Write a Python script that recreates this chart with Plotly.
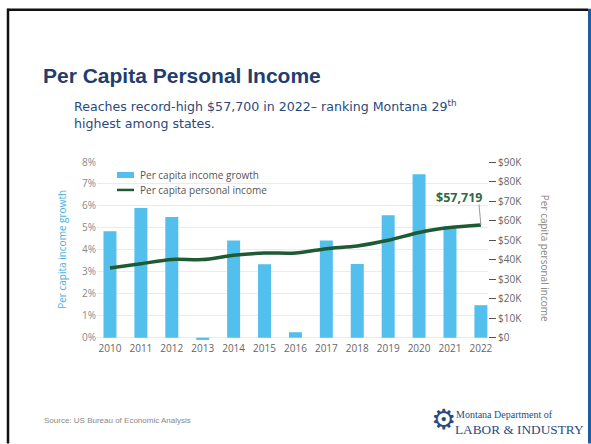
import plotly.graph_objects as go

# ---- data ----
years = [2010, 2011, 2012, 2013, 2014, 2015, 2016, 2017, 2018, 2019, 2020, 2021, 2022]
growth_pct = [4.85, 5.9, 5.5, -0.1, 4.43, 3.35, 0.25, 4.43, 3.36, 5.57, 7.44, 5.08, 1.48]
income_usd = [35700, 37900, 40100, 40000, 42200, 43400, 43400, 45600, 47000, 49900, 53900, 56400, 57719]
left_ticks = [0, 1, 2, 3, 4, 5, 6, 7, 8]
right_tickvals = [0, 10000, 20000, 30000, 40000, 50000, 60000, 70000, 80000, 90000]
right_ticktext = ["$0", "$10K", "$20K", "$30K", "$40K", "$50K", "$60K", "$70K", "$80K", "$90K"]
last_label = "$57,719"
series_names = ["Per capita income growth", "Per capita personal income"]

title_text = "Per Capita Personal Income"
subtitle_text = "Reaches record-high $57,700 in 2022\u2013 ranking Montana 29<sup>th</sup><br>highest among states."
source_text = "Source: US Bureau of Economic Analysis"

# ---- geometry (pixels) ----
W, H = 591, 444
L, R, T, B = 97, 488, 162, 341.3

def xp(px):
    return (px - L) / (R - L)

def yp(py):
    return (B - py) / (B - T)

FONT = "Open Sans"
BAR = "#52BFEC"
LINE = "#1E5A34"

fig = go.Figure()
fig.add_trace(go.Bar(
    x=years, y=growth_pct, name=series_names[0],
    marker=dict(color=BAR, line=dict(width=0)), width=0.42, yaxis="y", showlegend=False,
))
fig.add_trace(go.Scatter(
    x=years, y=income_usd, name=series_names[1], mode="lines",
    line=dict(color=LINE, width=3.5, shape="spline", smoothing=0.8), yaxis="y2",
    showlegend=False,
))

ymin = -0.15
fig.update_layout(
    width=W, height=H,
    margin=dict(l=L, r=W - R, t=T, b=H - B, pad=0),
    paper_bgcolor="white", plot_bgcolor="white",
    font=dict(family=FONT, size=10, color="#666"),
    bargap=0.58,
    xaxis=dict(range=[2009.58, 2022.23], tickmode="array", tickvals=years,
               ticktext=[str(y) for y in years], showgrid=False, zeroline=False,
               showline=False, ticks="", tickfont=dict(size=10, color="#666")),
    yaxis=dict(range=[ymin, 8], tickmode="array", tickvals=left_ticks,
               ticktext=[f"{v}%" for v in left_ticks], showgrid=True,
               gridcolor="#EBEBEB", gridwidth=1, zeroline=False, ticks="",
               tickfont=dict(size=10, color="#888")),
    yaxis2=dict(range=[ymin * 90000 / 8, 90000], overlaying="y", side="right",
                tickmode="array", tickvals=right_tickvals, ticktext=right_ticktext,
                showgrid=False, zeroline=False, ticks="outside", ticklen=7,
                tickcolor="#555", tickwidth=1.2, tickfont=dict(size=10, color="#666")),
)

ann = []
# title & subtitle
ann.append(dict(text=f"<b>{title_text}</b>", x=xp(41), y=yp(75), xref="paper", yref="paper",
                xanchor="left", yanchor="middle", showarrow=False,
                font=dict(family="Liberation Sans", size=21, color="#1F3E6E")))
ann.append(dict(text=subtitle_text, x=xp(72), y=yp(96), xref="paper", yref="paper",
                xanchor="left", yanchor="top", showarrow=False, align="left",
                font=dict(family="DejaVu Sans", size=12.6, color="#2B4A7C")))
# axis titles
ann.append(dict(text="Per capita income growth", x=xp(62), y=yp(250), xref="paper", yref="paper",
                textangle=-90, showarrow=False, xanchor="center", yanchor="middle",
                font=dict(size=10, color="#4BB0E0")))
ann.append(dict(text="Per capita personal income", x=xp(545), y=yp(258), xref="paper", yref="paper",
                textangle=90, showarrow=False, xanchor="center", yanchor="middle",
                font=dict(size=10, color="#888")))
# custom legend labels
ann.append(dict(text=series_names[0], x=xp(138), y=yp(175), xref="paper", yref="paper",
                xanchor="left", yanchor="middle", showarrow=False,
                font=dict(size=10, color="#555")))
ann.append(dict(text=series_names[1], x=xp(138), y=yp(190), xref="paper", yref="paper",
                xanchor="left", yanchor="middle", showarrow=False,
                font=dict(size=10, color="#555")))
# last value label with leader line
ann.append(dict(text="", x=years[-1], y=income_usd[-1], xref="x", yref="y2",
                showarrow=True, arrowhead=0, arrowwidth=1, arrowcolor="#999",
                ax=-2, ay=-22, standoff=0))
ann.append(dict(text=f"<b>{last_label}</b>", x=years[-1], y=income_usd[-1], xref="x", yref="y2",
                showarrow=False, xanchor="right", yanchor="middle", xshift=3, yshift=28,
                font=dict(size=12.5, color="#2E6B3E")))
# source
ann.append(dict(text=source_text, x=xp(42), y=yp(421), xref="paper", yref="paper",
                xanchor="left", yanchor="middle", showarrow=False,
                font=dict(family="Liberation Sans", size=8, color="#888")))
# logo
ann.append(dict(text="\u2699", x=xp(443), y=yp(420), xref="paper", yref="paper",
                xanchor="center", yanchor="middle", showarrow=False,
                font=dict(family="DejaVu Sans", size=28, color="#2A4A80")))
ann.append(dict(text="Montana Department of", x=xp(454), y=yp(415), xref="paper", yref="paper",
                xanchor="left", yanchor="middle", showarrow=False,
                font=dict(family="Liberation Serif", size=10, color="#2A4A80")))
ann.append(dict(text="LABOR &amp; INDUSTRY", x=xp(453), y=yp(430), xref="paper", yref="paper",
                xanchor="left", yanchor="middle", showarrow=False,
                font=dict(family="Liberation Serif", size=13.3, color="#2A4A80")))
fig.update_layout(annotations=ann)

# slide frame + legend swatches
shapes = [
    dict(type="line", xref="paper", yref="paper", x0=xp(7), x1=xp(588), y0=yp(9.5), y1=yp(9.5),
         line=dict(color="#111", width=2.5)),
    dict(type="line", xref="paper", yref="paper", x0=xp(8), x1=xp(8), y0=yp(8.5), y1=yp(444),
         line=dict(color="#111", width=2.5)),
    dict(type="rect", xref="paper", yref="paper", x0=xp(588), x1=xp(592), y0=yp(8.5), y1=yp(444),
         line=dict(width=0), fillcolor="#1A5FA5"),
    dict(type="rect", xref="paper", yref="paper", x0=xp(117), x1=xp(134), y0=yp(178), y1=yp(172),
         line=dict(width=0), fillcolor=BAR),
    dict(type="line", xref="paper", yref="paper", x0=xp(117), x1=xp(134), y0=yp(190), y1=yp(190),
         line=dict(color=LINE, width=2.5)),
]
fig.update_layout(shapes=shapes)

fig.write_html("out.html", config={"displayModeBar": False},
               post_script="document.body.style.margin='0';document.body.style.overflow='hidden';")
